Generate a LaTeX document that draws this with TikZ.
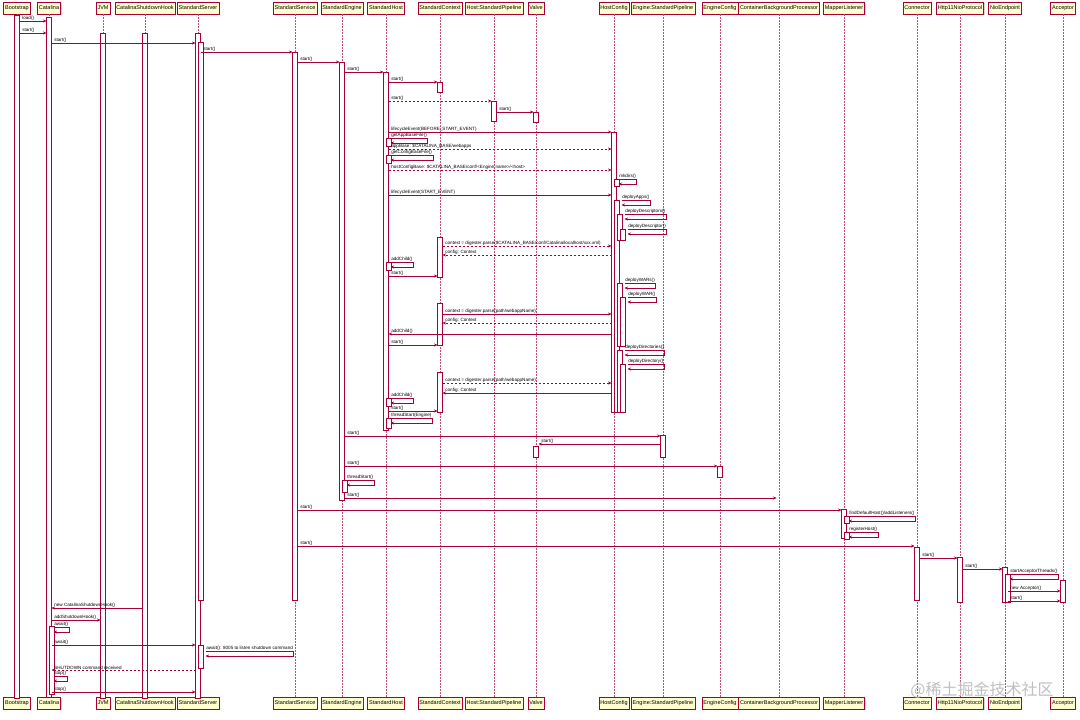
\documentclass[tikz,border=0pt]{standalone}
\usepackage{fontspec}
\setmainfont{Liberation Sans}
\newfontfamily\cjk{Noto Sans CJK SC}
\usetikzlibrary{arrows.meta, calc, shadows}

\definecolor{pred}{HTML}{A80036}
\definecolor{pfill}{HTML}{FEFECE}

% message from a left lifeline to a right one
\newcommand{\msgr}[5][]{\draw[msg,#1] ($(#2.south|-0,#4)+(2.5,0)$) -- node[lbl,pos=0,anchor=south west]{#5} ($(#3.south|-0,#4)+(-2.5,0)$);}
% message from a right lifeline to a left one
\newcommand{\msgl}[5][]{\draw[msg,#1] ($(#2.south|-0,#4)+(-2.5,0)$) -- node[lbl,pos=1,anchor=south west]{#5} ($(#3.south|-0,#4)+(2.5,0)$);}
% message to itself
\newcommand{\msgself}[4][0]{%
    \node[lbl,anchor=south west] (self) at ($(#2.south|-0,#3)+({#1+2.5},0)$) {#4};
    \draw[msg] (self.south west) -- (self.south east) -- ++(0,5) coordinate (selfb) -- (selfb -| self.west);}

\begin{document}
\begin{tikzpicture}[
            x=1pt, y=-1pt,
            >={Stealth[length=3.5pt,width=3pt]},
            part/.style={
                draw=pred,
                fill=pfill,
                line width=0.5pt,
                minimum height=12pt,
                inner xsep=1.5pt,
                font=\fontsize{5.5}{6}\selectfont,
                drop shadow={shadow xshift=1pt, shadow yshift=-1pt, opacity=0.35}
            },
            life/.style={draw=pred!70, dashed, dash pattern=on 1.5pt off 1.5pt, line width=0.4pt},
            act/.style={draw=pred, fill=white, line width=0.5pt},
            msg/.style={->, draw=pred, line width=0.5pt},
            ret/.style={dashed, dash pattern=on 2pt off 2pt},
            lbl/.style={inner sep=0.6pt, xshift=2pt, font=\fontsize{4.6}{5}\selectfont}
        ]
            \useasboundingbox (0,0) rectangle (1080,720);

            % Participantes e linhas de vida
            \foreach \n/\x/\t in {BS/17/Bootstrap, CT/49/Catalina, JV/103/JVM,
                SH/145/CatalinaShutdownHook, SS/198/StandardServer, SV/295/StandardService,
                SE/342/StandardEngine, SHo/386/StandardHost, SC/440/StandardContext,
                HP/494/Host:StandardPipeline, VL/536/Valve, HC/614/HostConfig,
                EP/663/Engine:StandardPipeline, EC/720/EngineConfig,
                CB/779/ContainerBackgroundProcessor, ML/844/MapperListener,
                CN/917/Connector, HN/960/Http11NioProtocol, NE/1005/NioEndpoint, AC/1063/Acceptor} {
                \node [part] (\n) at (\x,8) {\t};
                \node [part] (\n-b) at (\x,703) {\t};
                \draw [life] (\n) -- (\n-b);
            }

            % Barras de ativacao
            \foreach \n/\ya/\yb/\s in {BS/15/698/0, CT/17/697/0, CT/626/694/3, JV/33/698/0,
                SH/33/698/0, SS/33/698/0, SS/42/600/3, SS/645/668/3, SV/52/600/0,
                SE/62/500/0, SE/480/492/3, SHo/72/430/0, SHo/138/146/3, SHo/155/163/3,
                SHo/262/270/3, SHo/398/406/3, SHo/418/428/3, SC/82/92/0, SC/237/277/0,
                SC/303/345/0, SC/372/412/0, HP/101/121/0, VL/112/122/0, VL/446/457/0,
                HC/132/412/0, HC/179/186/3, HC/200/412/3, HC/214/240/6, HC/229/240/9,
                HC/283/346/6, HC/297/346/9, HC/350/412/6, HC/364/412/9, EP/435/457/0,
                EC/466/477/0, ML/509/538/0, ML/516/523/3, ML/532/539/3, CN/547/600/0,
                HN/557/602/0, NE/567/602/0, NE/574/602/3, AC/580/602/0} {
                \draw [act] ($(\n.south|-0,\ya)+(\s-2.5,0)$) rectangle ($(\n.south|-0,\yb)+(\s+2.5,0)$);
            }

            % Inicializacao
            \msgr{BS}{CT}{21}{load()}
            \msgr{BS}{CT}{33}{start()}
            \msgr{CT}{SS}{43}{start()}
            \msgr{SS}{SV}{52}{start()}
            \msgr{SV}{SE}{62}{start()}
            \msgr{SE}{SHo}{72}{start()}
            \msgr{SHo}{SC}{82}{start()}
            \msgr[ret]{SHo}{HP}{101}{start()}
            \msgr{HP}{VL}{112}{start()}

            % HostConfig
            \msgr{SHo}{HC}{132}{lifecycleEvent(BEFORE\_START\_EVENT)}
            \msgself{SHo}{138}{getAppBaseFile()}
            \msgr[ret]{SHo}{HC}{149}{appBase: \$CATALINA\_BASE/webapps}
            \msgself{SHo}{155}{getConfigBaseFile()}
            \msgr[ret]{SHo}{HC}{170}{hostConfigBase: \$CATALINA\_BASE/conf/<Engine name>/<host>}
            \msgself{HC}{179}{mkdirs()}
            \msgr{SHo}{HC}{195}{lifecycleEvent(START\_EVENT)}
            \msgself[3]{HC}{200}{deployApps()}
            \msgself[6]{HC}{214}{deployDescriptors()}
            \msgself[9]{HC}{229}{deployDescriptor()}
            \msgr[ret]{SC}{HC}{246}{context = digester.parse(\$CATALINA\_BASE/conf/Catalina/localhost/xxx.xml)}
            \msgl[ret]{HC}{SC}{255}{config: Context}
            \msgself{SHo}{262}{addChild()}
            \msgr{SHo}{SC}{276}{start()}
            \msgself[6]{HC}{283}{deployWARs()}
            \msgself[9]{HC}{297}{deployWAR()}
            \msgr{SC}{HC}{314}{context = digester.parse(path/webappName)}
            \msgl[ret]{HC}{SC}{323}{config: Context}
            \msgl{HC}{SHo}{334}{addChild()}
            \msgr{SHo}{SC}{345}{start()}
            \msgself[6]{HC}{350}{deployDirectories()}
            \msgself[9]{HC}{364}{deployDirectory()}
            \msgr[ret]{SC}{HC}{383}{context = digester.parse(path/webappName)}
            \msgl{HC}{SC}{393}{config: Context}
            \msgself{SHo}{398}{addChild()}
            \msgr{SHo}{SC}{411}{start()}
            \msgself{SHo}{418}{threadStart(Engine)}

            % Engine
            \msgr{SE}{EP}{436}{start()}
            \msgl{EP}{VL}{444}{start()}
            \msgr{SE}{EC}{466}{start()}
            \msgself{SE}{480}{threadStart()}
            \msgr{SE}{CB}{498}{start()}

            % Mapper e conectores
            \msgr{SV}{ML}{510}{start()}
            \msgself{ML}{516}{findDefaultHost()/addListeners()}
            \msgself{ML}{532}{registerHost()}
            \msgr{SV}{CN}{546}{start()}
            \msgr{CN}{HN}{558}{start()}
            \msgr{HN}{NE}{569}{start()}
            \msgself{NE}{574}{startAcceptorThreads()}
            \msgr{NE}{AC}{591}{new Acceptor()}
            \msgr{NE}{AC}{601}{start()}

            % Desligamento
            \msgl{SH}{CT}{608}{new CatalinaShutdownHook()}
            \msgr{CT}{JV}{620}{addShutdownHook()}
            \msgself{CT}{627}{await()}
            \msgr{CT}{SS}{645}{await()}
            \msgself[3]{SS}{651}{await(): 8005 to listen shutdown command}
            \msgl[ret]{SS}{CT}{670}{SHUTDOWN command received}
            \msgself{CT}{676}{stop()}
            \msgr{CT}{SS}{692}{stop()}

            % Marca d'agua
            \node [text=gray!50, font=\cjk\fontsize{16}{16}\selectfont] (mark) at (982,690) {@稀土掘金技术社区};
        \end{tikzpicture}
\end{document}
